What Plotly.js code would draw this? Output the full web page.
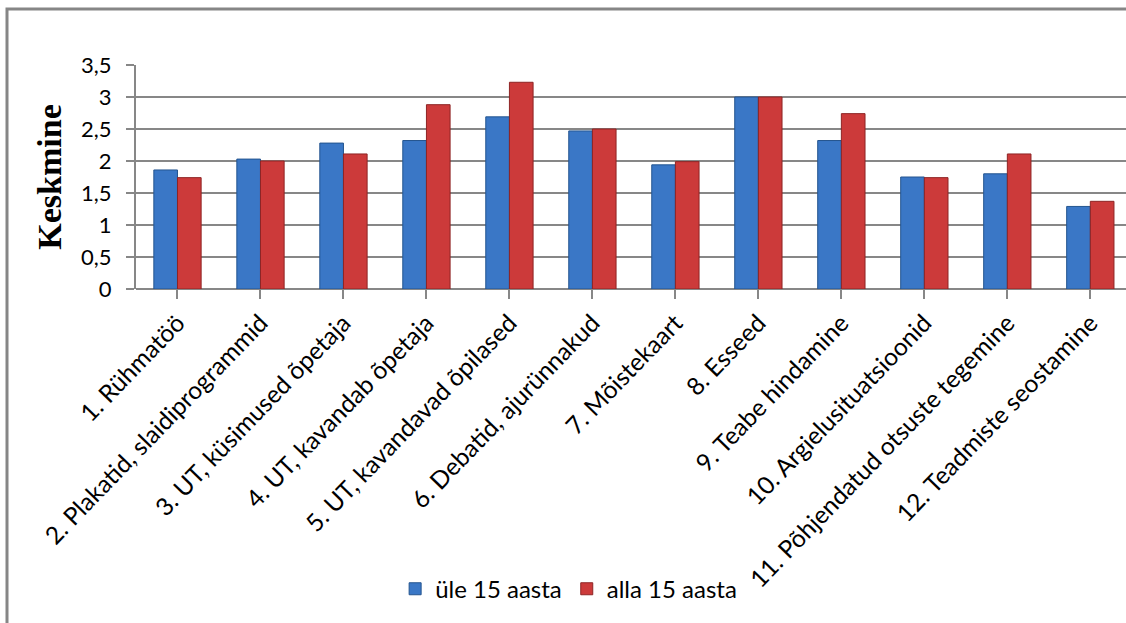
<!DOCTYPE html>
<html>
<head>
<meta charset="utf-8">
<script src="https://cdn.plot.ly/plotly-3.0.1.min.js"></script>
<style>html,body{margin:0;padding:0;background:#fff;}#chart{width:1126px;height:623px;}</style>
</head>
<body>
<div id="chart"></div>
<script>
const categories = [
  "1. Rühmatöö",
  "2. Plakatid, slaidiprogrammid",
  "3. UT, küsimused õpetaja",
  "4. UT, kavandab õpetaja",
  "5. UT, kavandavad õpilased",
  "6. Debatid, ajurünnakud",
  "7. Mõistekaart",
  "8. Esseed",
  "9. Teabe hindamine",
  "10. Argielusituatsioonid",
  "11. Põhjendatud otsuste tegemine",
  "12. Teadmiste seostamine"
];
const seriesNames = ["üle 15 aasta", "alla 15 aasta"];
const ule15 = [1.86, 2.03, 2.28, 2.32, 2.69, 2.47, 1.94, 3.0, 2.32, 1.75, 1.80, 1.29];
const alla15 = [1.74, 2.00, 2.11, 2.88, 3.23, 2.50, 1.99, 3.0, 2.74, 1.74, 2.11, 1.37];
const yTitle = "Keskmine";

const idx = categories.map((_, i) => i);

const traces = [
  {type: "bar", name: seriesNames[0], x: idx, y: ule15,
   marker: {color: "#3a77c6", line: {color: "#24558f", width: 1}}},
  {type: "bar", name: seriesNames[1], x: idx, y: alla15,
   marker: {color: "#cc3a3a", line: {color: "#8e2424", width: 1}}}
];

const layout = {
  width: 1126, height: 623,
  margin: {l: 136, r: 0, t: 65, b: 334, pad: 0},
  paper_bgcolor: "#ffffff", plot_bgcolor: "#ffffff",
  separators: ", ",
  font: {family: "Lato, 'Open Sans', sans-serif", color: "#000", size: 22},
  barmode: "group", bargap: 0.43, bargroupgap: 0,
  showlegend: true,
  legend: {orientation: "h", x: 0.437, xanchor: "center", y: -1.34, yanchor: "middle",
           font: {size: 24, family: "Lato, sans-serif"}, bgcolor: "rgba(0,0,0,0)",
           itemwidth: 30, tracegroupgap: 0},
  xaxis: {
    range: [-0.5, 11.43], tickmode: "array", tickvals: idx, ticktext: categories,
    tickangle: -46, tickson: "boundaries", ticks: "outside", ticklen: 9, tickcolor: "#878787", tickwidth: 2,
    showline: false, showgrid: false, zeroline: false,
    tickfont: {size: 24.5, family: "Lato, sans-serif"}, automargin: false
  },
  yaxis: {
    range: [0, 3.5], dtick: 0.5, tick0: 0, ticks: "outside", ticklen: 8, tickcolor: "#878787", tickwidth: 2,
    showline: true, linecolor: "#878787", linewidth: 2,
    showgrid: true, gridcolor: "#878787", gridwidth: 2,
    zeroline: true, zerolinecolor: "#878787", zerolinewidth: 2,
    tickfont: {size: 22, family: "Lato, sans-serif"}, ticklabelstandoff: 10,
    title: {text: yTitle, font: {family: "'Liberation Serif', 'Times New Roman', serif", size: 34, weight: "bold"}, standoff: 9},
    automargin: false
  },
  shapes: [
    {type: "rect", xref: "paper", yref: "paper", x0: -0.1303, x1: 1.2, y0: -1.6, y1: 1.25,
     line: {color: "#868686", width: 3}, fillcolor: "rgba(0,0,0,0)", layer: "below"}
  ]
};

Plotly.newPlot("chart", traces, layout, {displayModeBar: false, staticPlot: true});
</script>
</body>
</html>
